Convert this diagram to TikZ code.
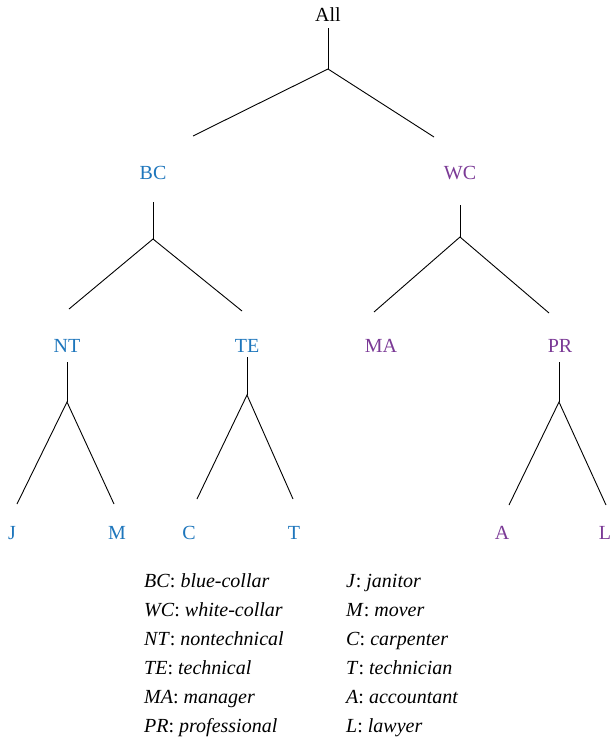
\documentclass[tikz,border=0pt]{standalone}
\usepackage{fontspec}
\setmainfont{Liberation Serif}
\definecolor{bcblue}{RGB}{30,118,188}
\definecolor{wcpurple}{RGB}{123,58,150}
\begin{document}
\begin{tikzpicture}[x=1pt,y=-1pt,
  lbl/.style={anchor=base,inner sep=0pt,font=\fontsize{20}{23}\selectfont},
  blue lbl/.style={lbl,text=bcblue},
  purple lbl/.style={lbl,text=wcpurple},
  branch/.style={draw=black,line width=0.9pt},
  key/.style={anchor=base west,inner sep=0pt,font=\fontsize{20}{23}\selectfont}]
\useasboundingbox (0,0) rectangle (610,739);

% category labels
\node[lbl] (all) at (328,21) {All};
\node[blue lbl] (bc) at (153,179) {BC};
\node[purple lbl] (wc) at (460,179) {WC};
\node[blue lbl] (nt) at (67,352) {NT};
\node[blue lbl] (te) at (247,352) {TE};
\node[purple lbl] (ma) at (381,352) {MA};
\node[purple lbl] (pr) at (560,352) {PR};
\node[blue lbl] (j) at (12,539) {J};
\node[blue lbl] (m) at (117,539) {M};
\node[blue lbl] (c) at (189,539) {C};
\node[blue lbl] (t) at (294,539) {T};
\node[purple lbl] (a) at (502,539) {A};
\node[purple lbl] (l) at (605,539) {L};

% stems, forks and branch ends
\coordinate (all-s) at (328,28);  \coordinate (all-f) at (328,69);
\coordinate (all-l) at (193,136); \coordinate (all-r) at (434,137);
\coordinate (bc-s) at (153,202);  \coordinate (bc-f) at (153,239);
\coordinate (bc-l) at (69,309);   \coordinate (bc-r) at (242,311);
\coordinate (wc-s) at (460,205);  \coordinate (wc-f) at (460,237);
\coordinate (wc-l) at (374,312);  \coordinate (wc-r) at (549,313);
\coordinate (nt-s) at (67,362);   \coordinate (nt-f) at (67,402);
\coordinate (nt-l) at (17,504);   \coordinate (nt-r) at (114,504);
\coordinate (te-s) at (247,357);  \coordinate (te-f) at (247,395);
\coordinate (te-l) at (197,499);  \coordinate (te-r) at (293,499);
\coordinate (pr-s) at (559,362);  \coordinate (pr-f) at (559,402);
\coordinate (pr-l) at (509,505);  \coordinate (pr-r) at (606,505);

\foreach \n in {all,bc,wc,nt,te,pr}{
  \draw[branch] (\n-s) -- (\n-f);
  \draw[branch] (\n-l) -- (\n-f) -- (\n-r);
}

% key to the abbreviations
\node[key] (k1) at (144,587) {\textit{BC}: \textit{blue-collar}};
\node[key] (k2) at (144,616) {\textit{WC}: \textit{white-collar}};
\node[key] (k3) at (144,645) {\textit{NT}: \textit{nontechnical}};
\node[key] (k4) at (144,674) {\textit{TE}: \textit{technical}};
\node[key] (k5) at (144,703) {\textit{MA}: \textit{manager}};
\node[key] (k6) at (144,732) {\textit{PR}: \textit{professional}};
\node[key] (k7) at (346,587) {\textit{J}: \textit{janitor}};
\node[key] (k8) at (346,616) {\textit{M}: \textit{mover}};
\node[key] (k9) at (346,645) {\textit{C}: \textit{carpenter}};
\node[key] (k10) at (346,674) {\textit{T}: \textit{technician}};
\node[key] (k11) at (346,703) {\textit{A}: \textit{accountant}};
\node[key] (k12) at (346,732) {\textit{L}: \textit{lawyer}};
\end{tikzpicture}
\end{document}
